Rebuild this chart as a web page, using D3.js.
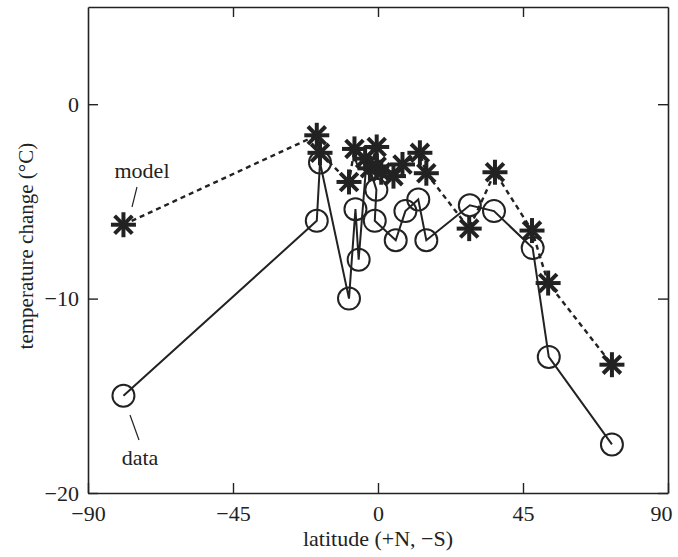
<!DOCTYPE html>
<html>
<head>
<meta charset="utf-8">
<script src="https://cdn.jsdelivr.net/npm/d3@7"></script>
<style>
  body { margin: 0; background: #fff; }
  svg text { font-family: "Liberation Serif", "Times New Roman", "DejaVu Serif", serif; fill: #222; }
</style>
</head>
<body>
<svg id="chart"></svg>
<script>
// chart size
const width = 678;
const height = 557;
const margin = { top: 7, right: 10, bottom: 64, left: 88 };
const serif = "'Liberation Serif', 'Times New Roman', serif";

// data (circles, solid line), in drawing order
const dataLat = [-79, -19, -18, -9, -7, -6, -3.5, -0.5, -1, 5.5, 8.5, 12.5, 15, 28.5, 36, 48, 53, 72.6];
const dataVal = [-15, -6, -3, -10, -5.4, -8, -2.8, -4.4, -6, -7, -5.5, -4.9, -7, -5.2, -5.5, -7.4, -13, -17.5];

// model (asterisks, dashed line)
const modelLat = [-79, -19, -18, -9, -7.3, -4, -2.5, -0.4, -0.4, 1, 4.8, 7.6, 13, 15, 28.3, 36.3, 47.8, 52.8, 72.6];
const modelVal = [-6.2, -1.6, -2.5, -4, -2.3, -2.8, -3.3, -2.2, -3.2, -3.5, -3.7, -3.1, -2.5, -3.55, -6.4, -3.5, -6.5, -9.2, -13.4];

// ticks
const xTicks = [-90, -45, 0, 45, 90];
const yTicks = [-20, -10, 0];

const data = dataLat.map((d, i) => ({ lat: d, val: dataVal[i] }));
const model = modelLat.map((d, i) => ({ lat: d, val: modelVal[i] }));

const svg = d3.select("#chart")
    .attr("width", width)
    .attr("height", height)
    .attr("font-family", serif);

const x = d3.scaleLinear()
    .domain([-90, 90])
    .range([margin.left, width - margin.right]);

const y = d3.scaleLinear()
    .domain([-20, 5])
    .range([height - margin.bottom, margin.top]);

const ink = "#222";

// axes, ticks pointing inward on all four sides
function styleAxis(g) {
    g.attr("font-family", serif);
    g.selectAll("path.domain").attr("stroke", ink).attr("stroke-width", 1.6);
    g.selectAll(".tick line").attr("stroke", ink).attr("stroke-width", 1.4);
    g.selectAll(".tick text")
        .style("font-family", serif)
        .style("font-size", "22px")
        .attr("fill", ink);
}

const gx = svg.append("g")
    .attr("transform", `translate(0,${y(-20)})`)
    .call(d3.axisBottom(x).tickValues(xTicks).tickSize(-10).tickSizeOuter(0).tickPadding(12))
    .call(styleAxis);
// the last label sits a little inside the frame in the original
gx.selectAll(".tick text").filter(d => d === 90).attr("dx", -7);

svg.append("g")
    .attr("transform", `translate(0,${y(5)})`)
    .call(d3.axisTop(x).tickValues([-45, 0, 45]).tickSize(-10).tickSizeOuter(0).tickFormat(""))
    .call(styleAxis);

svg.append("g")
    .attr("transform", `translate(${x(-90)},0)`)
    .call(d3.axisLeft(y).tickValues(yTicks).tickSize(-10).tickSizeOuter(0).tickPadding(9))
    .call(styleAxis);

svg.append("g")
    .attr("transform", `translate(${x(90)},0)`)
    .call(d3.axisRight(y).tickValues(yTicks).tickSize(-10).tickSizeOuter(0).tickFormat(""))
    .call(styleAxis);

// axis titles
svg.append("text")
    .attr("x", x(0))
    .attr("y", 546)
    .attr("text-anchor", "middle")
    .style("font-family", serif)
    .style("font-size", "22px")
    .text("latitude (+N, \u2212S)");

svg.append("text")
    .attr("transform", `translate(33,${y(-7.3)}) rotate(-90)`)
    .attr("text-anchor", "middle")
    .style("font-family", serif)
    .style("font-size", "21px")
    .text("temperature change (\u00b0C)");

const line = d3.line().x(d => x(d.lat)).y(d => y(d.val));

// model dashed line
svg.append("path")
    .datum(model)
    .attr("d", line)
    .attr("fill", "none")
    .attr("stroke", ink)
    .attr("stroke-width", 2.4)
    .attr("stroke-dasharray", "5,4");

// data solid line
svg.append("path")
    .datum(data)
    .attr("d", line)
    .attr("fill", "none")
    .attr("stroke", ink)
    .attr("stroke-width", 2);

// data circles
svg.append("g").selectAll("circle")
    .data(data)
    .join("circle")
    .attr("cx", d => x(d.lat))
    .attr("cy", d => y(d.val))
    .attr("r", 11)
    .attr("fill", "none")
    .attr("stroke", ink)
    .attr("stroke-width", 2);

// model asterisks: 4 strokes through the centre
const arm = 12.5;
const stars = svg.append("g").selectAll("g")
    .data(model)
    .join("g")
    .attr("transform", d => `translate(${x(d.lat)},${y(d.val)})`);

[0, 45, 90, 135].forEach(a => {
    const r = a * Math.PI / 180;
    stars.append("line")
        .attr("x1", -arm * Math.cos(r)).attr("y1", -arm * Math.sin(r))
        .attr("x2", arm * Math.cos(r)).attr("y2", arm * Math.sin(r))
        .attr("stroke", ink)
        .attr("stroke-width", 4);
});

// annotations
svg.append("text")
    .attr("x", 142).attr("y", 178)
    .attr("text-anchor", "middle")
    .style("font-family", serif)
    .style("font-size", "22px")
    .text("model");
svg.append("line")
    .attr("x1", 137).attr("y1", 187).attr("x2", 132).attr("y2", 207)
    .attr("stroke", ink).attr("stroke-width", 1.2);

svg.append("text")
    .attr("x", 140).attr("y", 465)
    .attr("text-anchor", "middle")
    .style("font-family", serif)
    .style("font-size", "22px")
    .text("data");
svg.append("line")
    .attr("x1", 130).attr("y1", 415).attr("x2", 139).attr("y2", 440)
    .attr("stroke", ink).attr("stroke-width", 1.2);
</script>
</body>
</html>
